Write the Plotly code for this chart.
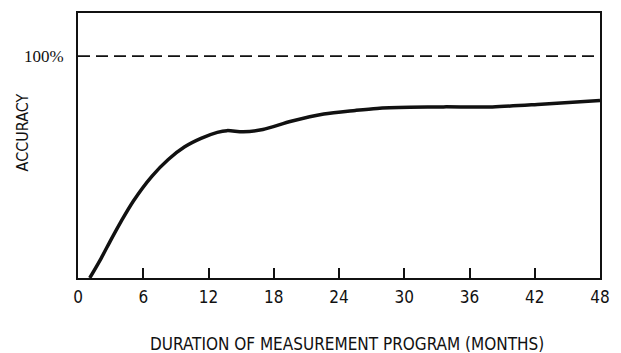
import plotly.graph_objects as go

# Accuracy of the estimate versus length of the measurement program
months = [1.08, 2.14, 3.04, 3.94, 5.08, 6.79, 8.3, 9.81, 11.31, 12.81, 13.7, 15.2,
          17.0, 19.6, 22.6, 25.5, 27.5, 30.5, 33.6, 38.1, 42.6, 48.0]
accuracy = [0.0, 9.0, 17.3, 25.3, 34.6, 45.8, 53.4, 59.1, 62.9, 65.6, 66.4, 65.9,
            66.9, 70.6, 73.9, 75.5, 76.4, 76.9, 77.1, 77.1, 78.3, 80.0]

x_ticks = [0, 6, 12, 18, 24, 30, 36, 42, 48]
full_accuracy = 100
y_tick_text = "100%"

ink = "#111111"
sans = "DejaVu Sans Condensed, Liberation Sans Narrow, Arial Narrow, sans-serif"
serif = "Liberation Serif, Times New Roman, serif"

fig = go.Figure()

# 100% reference level
fig.add_trace(go.Scatter(
    x=[x_ticks[0], x_ticks[-1]], y=[full_accuracy, full_accuracy],
    mode="lines", line=dict(color=ink, width=1.8, dash="12px,6px"),
    hoverinfo="skip", showlegend=False,
))

# Accuracy curve
fig.add_trace(go.Scatter(
    x=months, y=accuracy, mode="lines",
    line=dict(color=ink, width=3.5, shape="spline", smoothing=0.8),
    showlegend=False,
))

fig.update_layout(
    width=621, height=353,
    margin=dict(l=78, r=11, t=13, b=75),
    paper_bgcolor="white", plot_bgcolor="white",
    font=dict(family=sans, color=ink),
    annotations=[
        dict(text="DURATION OF MEASUREMENT PROGRAM (MONTHS)",
             xref="paper", yref="paper", x=0.515, y=-0.248,
             xanchor="center", yanchor="middle", showarrow=False,
             font=dict(family=sans, size=17, color=ink)),
        dict(text="ACCURACY", textangle=-90,
             xref="paper", yref="paper", x=-0.107, y=0.55,
             xanchor="center", yanchor="middle", showarrow=False,
             font=dict(family=sans, size=16, color=ink)),
    ],
)

fig.update_xaxes(
    range=[x_ticks[0], x_ticks[-1]], tickvals=x_ticks,
    ticks="inside", ticklen=10, tickwidth=1.5, tickcolor=ink,
    ticklabelstandoff=3,
    showline=True, linecolor=ink, linewidth=2, mirror=True,
    showgrid=False, zeroline=False,
    tickfont=dict(family=sans, size=17, color=ink),
)

fig.update_yaxes(
    range=[0, 119.4], tickvals=[full_accuracy], ticktext=[y_tick_text],
    ticks="", ticklabelstandoff=9,
    showline=True, linecolor=ink, linewidth=2, mirror=True,
    showgrid=False, zeroline=False,
    tickfont=dict(family=serif, size=17, color=ink),
)

fig.write_html("out.html")
